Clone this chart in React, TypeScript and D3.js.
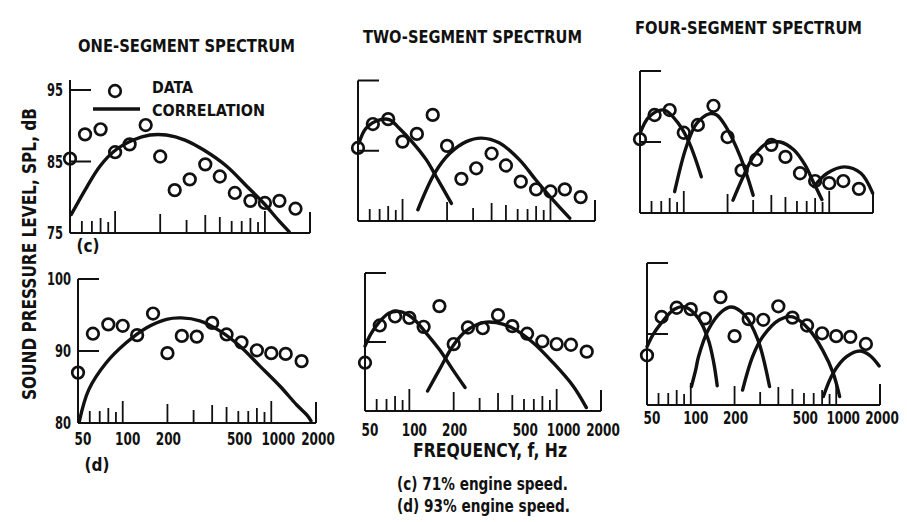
import React from "react";
import * as d3 from "d3";

// One-third-octave band centre frequencies, Hz
const BAND_FREQS = [50, 63, 80, 100, 125, 160, 200, 250, 315, 400, 500, 630, 800, 1000, 1250, 1600];

// Measured sound pressure level, dB
const SPL_71 = [85.4, 88.8, 89.5, 86.3, 87.4, 90.1, 85.7, 81.0, 82.5, 84.6, 82.9, 80.6, 79.5, 79.2, 79.5, 78.4];
const SPL_93 = [87.0, 92.4, 93.7, 93.5, 92.2, 95.2, 89.7, 92.1, 92.0, 93.9, 92.3, 91.2, 90.1, 89.7, 89.6, 88.6];

type Pt = [number, number];

// Correlation spectra, [frequency Hz, SPL dB]
const ONE_SEG_71: Pt[][] = [
  [[51, 77.6], [65, 81.5], [79, 84.3], [98, 86.4], [132, 88.0], [171, 88.7], [220, 88.7], [293, 88.0],
   [391, 86.6], [558, 84.3], [760, 81.5], [979, 79.2], [1229, 76.8], [1450, 75.2]],
];
const TWO_SEG_71: Pt[][] = [
  [[50.8, 86.1], [56.6, 88.2], [70, 89.4], [82, 89.4], [95, 88.2], [118, 86.1], [145, 83.7], [169, 81.3], [214, 77.5]],
  [[127, 76.6], [165, 81.8], [208, 84.6], [270, 86.3], [341, 86.8], [453, 86.1], [618, 83.7], [800, 80.8],
   [1039, 78.0], [1350, 75.4]],
];
const FOUR_SEG_71: Pt[][] = [
  [[50, 86.2], [58, 88.6], [73.6, 89.5], [93.4, 87.4], [109.5, 84.8], [132, 80.1]],
  [[86.5, 78.0], [104, 84.3], [122.6, 87.6], [151.5, 89.0], [168.5, 88.8], [191.5, 87.4], [245, 82.9], [300, 77.5]],
  [[218, 76.8], [256, 80.1], [300, 82.9], [371, 84.8], [460, 85.0], [570, 83.9], [680, 81.8], [780, 79.3], [890, 76.9]],
  [[784, 78.7], [968, 80.6], [1270, 81.5], [1652, 80.6], [1990, 77.8]],
];
const ONE_SEG_93: Pt[][] = [
  [[51, 80.2], [59, 84.6], [77, 88.3], [105, 91.1], [144, 93.2], [197, 94.4], [248, 94.6], [330, 94.2],
   [450, 92.8], [614, 90.7], [839, 87.9], [1146, 85.1], [1485, 82.5], [1740, 81.1], [1850, 80.3]],
];
const TWO_SEG_93: Pt[][] = [
  [[50, 89.4], [54.6, 91.1], [62, 92.8], [73, 94.2], [87, 94.4], [105, 93.5], [130, 91.3], [160, 88.9],
   [197, 86.0], [239, 83.4]],
  [[133, 82.9], [160, 86.0], [197, 89.4], [243, 91.6], [317, 92.8], [389, 92.8], [505, 92.0], [692, 89.9],
   [946, 87.0], [1296, 83.6], [1591, 80.5]],
];
const FOUR_SEG_93: Pt[][] = [
  [[50, 88.2], [55, 89.9], [63, 91.6], [77, 93.5], [92, 93.8], [113, 92.2], [132, 89.2], [144, 85.9], [152, 82.7]],
  [[101, 82.6], [108, 84.9], [113, 86.8], [132, 90.6], [162, 93.1], [190, 93.8], [234, 92.7], [289, 89.2], [348, 82.6]],
  [[227, 82.1], [266, 86.8], [312, 89.6], [407, 92.0], [503, 92.4], [653, 90.6], [808, 87.7], [953, 84.5], [1055, 81.2]],
  [[816, 81.2], [953, 84.5], [1178, 86.8], [1455, 87.6], [1700, 87.0], [1975, 85.5]],
];

// Axis furniture
const FREQ_TICKS = [60, 70, 80, 90, 100, 200, 300, 400, 500, 600, 700, 800, 900, 1000];
const FREQ_LABELS = [50, 100, 200, 500, 1000, 2000];
const TITLES = ["ONE-SEGMENT SPECTRUM", "TWO-SEGMENT SPECTRUM", "FOUR-SEGMENT SPECTRUM"];
const DB_TICKS_71 = [95, 85, 75];
const DB_TICKS_93 = [100, 90, 80];

const FONT = "'Liberation Sans Narrow', 'DejaVu Sans Condensed', 'Arial Narrow', sans-serif";
const INK = "#111";

type PanelDef = {
  x0: number; x1: number;       // pixel of 50 Hz and 2000 Hz
  yTop: number; yBot: number;   // pixel of top and bottom dB
  ticks: number[];              // [top, middle, bottom] dB
  topPad: number;
  spl: number[];
  curves: Pt[][];
  yLabels: boolean;
  xLabelY?: number;
};

const PANELS: PanelDef[] = [
  { x0: 70, x1: 310, yTop: 90, yBot: 233, ticks: DB_TICKS_71, topPad: 10, spl: SPL_71, curves: ONE_SEG_71, yLabels: true },
  { x0: 358, x1: 595, yTop: 80.5, yBot: 221, ticks: DB_TICKS_71, topPad: 0, spl: SPL_71, curves: TWO_SEG_71, yLabels: false },
  { x0: 640, x1: 873, yTop: 71, yBot: 213, ticks: DB_TICKS_71, topPad: 0, spl: SPL_71, curves: FOUR_SEG_71, yLabels: false },
  { x0: 78, x1: 316, yTop: 279, yBot: 423, ticks: DB_TICKS_93, topPad: 0, spl: SPL_93, curves: ONE_SEG_93, yLabels: true, xLabelY: 445 },
  { x0: 365, x1: 601, yTop: 273, yBot: 411, ticks: DB_TICKS_93, topPad: 0, spl: SPL_93, curves: TWO_SEG_93, yLabels: false, xLabelY: 436 },
  { x0: 647, x1: 880, yTop: 263, yBot: 405, ticks: DB_TICKS_93, topPad: 0, spl: SPL_93, curves: FOUR_SEG_93, yLabels: false, xLabelY: 424 },
];

function tickLength(f: number): number {
  const m = Math.round(f / Math.pow(10, Math.floor(Math.log10(f))));
  const lens: Record<number, number> = { 1: 22, 2: 19, 3: 13, 4: 18, 5: 16, 6: 12, 7: 12, 8: 15, 9: 11 };
  return lens[m] ?? 12;
}

function labelNudge(f: number): number {
  const n: Record<number, number> = { 50: 5, 100: 5, 200: 1, 500: 13, 1000: 7, 2000: 2 };
  return n[f] ?? 0;
}

function Panel({ p }: { p: PanelDef }) {
  const x = d3.scaleLog().domain([50, 2000]).range([p.x0, p.x1]);
  const y = d3.scaleLinear().domain([p.ticks[2], p.ticks[0]]).range([p.yBot, p.yTop]);
  const line = d3
    .line<Pt>()
    .x((d) => x(d[0]))
    .y((d) => y(d[1]))
    .curve(d3.curveCatmullRom.alpha(0.5));
  const base = y(p.ticks[2]);
  const top = y(p.ticks[0]) - p.topPad;

  return (
    <g>
      {/* axes */}
      <line x1={x(50)} x2={x(50)} y1={top} y2={base} stroke={INK} strokeWidth={2} />
      <line x1={x(50)} x2={x(2000)} y1={base} y2={base} stroke={INK} strokeWidth={2} />
      <line x1={x(2000)} x2={x(2000)} y1={base} y2={base - 21} stroke={INK} strokeWidth={2} />
      {FREQ_TICKS.map((f) => (
        <line key={f} x1={x(f)} x2={x(f)} y1={base} y2={base - tickLength(f)} stroke={INK} strokeWidth={1.8} />
      ))}
      {p.ticks.slice(0, 2).map((v) => (
        <line key={v} x1={x(50)} x2={x(50) + 21} y1={y(v)} y2={y(v)} stroke={INK} strokeWidth={2} />
      ))}
      {p.yLabels &&
        p.ticks.map((v) => {
          const s = String(v);
          return (
            <text key={v} x={x(50) - 7} y={y(v) + 6} textAnchor="end" fontSize={17} fontWeight={700}
              fontFamily={FONT} fill={INK} textLength={s.length * 8} lengthAdjust="spacingAndGlyphs">
              {s}
            </text>
          );
        })}
      {p.xLabelY !== undefined &&
        FREQ_LABELS.map((f) => {
          const s = String(f);
          return (
            <text key={f} x={x(f) + labelNudge(f)} y={p.xLabelY} textAnchor="middle" fontSize={17} fontWeight={700}
              fontFamily={FONT} fill={INK} textLength={s.length * 8.4} lengthAdjust="spacingAndGlyphs">
              {s}
            </text>
          );
        })}
      {/* correlation */}
      {p.curves.map((c, i) => (
        <path key={i} d={line(c) ?? ""} fill="none" stroke={INK} strokeWidth={3.4} strokeLinecap="round" />
      ))}
      {/* data */}
      {BAND_FREQS.map((f, i) => (
        <circle key={f} cx={x(f)} cy={y(p.spl[i])} r={5.8} fill="none" stroke={INK} strokeWidth={2.7} />
      ))}
    </g>
  );
}

export default function App() {
  const titleCenters = [
    { cx: 186.5, y: 52, w: 217 },
    { cx: 472.5, y: 43, w: 219 },
    { cx: 748.5, y: 34, w: 227 },
  ];
  return (
    <svg width={907} height={522} style={{ position: "absolute", left: 0, top: 0, background: "#fff" }}>
      <rect width={907} height={522} fill="#fff" />
      {TITLES.map((t, i) => {
        const c = titleCenters[i];
        return (
          <text key={t} x={c.cx} y={c.y} textAnchor="middle" fontSize={18.5} fontWeight={700} fontFamily={FONT}
            fill={INK} textLength={c.w} lengthAdjust="spacingAndGlyphs">
            {t}
          </text>
        );
      })}

      {PANELS.map((p, i) => (
        <Panel key={i} p={p} />
      ))}

      {/* legend */}
      <circle cx={115} cy={91} r={5.8} fill="none" stroke={INK} strokeWidth={2.7} />
      <line x1={93} x2={140} y1={109} y2={109} stroke={INK} strokeWidth={3.6} />
      <text x={152} y={93} fontSize={16} fontWeight={700} fontFamily={FONT} fill={INK} textLength={41}
        lengthAdjust="spacingAndGlyphs">DATA</text>
      <text x={152} y={116} fontSize={16} fontWeight={700} fontFamily={FONT} fill={INK} textLength={113}
        lengthAdjust="spacingAndGlyphs">CORRELATION</text>

      {/* axis titles */}
      <text x={0} y={0} transform="translate(36 254) rotate(-90)" textAnchor="middle" fontSize={19} fontWeight={700}
        fontFamily={FONT} fill={INK} textLength={292} lengthAdjust="spacingAndGlyphs">
        SOUND PRESSURE LEVEL, SPL, dB
      </text>
      <text x={490} y={457} textAnchor="middle" fontSize={19} fontWeight={700} fontFamily={FONT} fill={INK}
        textLength={154} lengthAdjust="spacingAndGlyphs">
        FREQUENCY, f, Hz
      </text>

      {/* panel keys */}
      <text x={88} y={252} textAnchor="middle" fontSize={17} fontWeight={700} fontFamily={FONT} fill={INK}>(c)</text>
      <text x={97} y={471} textAnchor="middle" fontSize={17} fontWeight={700} fontFamily={FONT} fill={INK}>(d)</text>

      {/* caption */}
      <text x={397} y={490} fontSize={17} fontWeight={700} fontFamily={FONT} fill={INK} textLength={171}
        lengthAdjust="spacingAndGlyphs">(c) 71% engine speed.</text>
      <text x={397} y={512} fontSize={17} fontWeight={700} fontFamily={FONT} fill={INK} textLength={173}
        lengthAdjust="spacingAndGlyphs">(d) 93% engine speed.</text>
    </svg>
  );
}
